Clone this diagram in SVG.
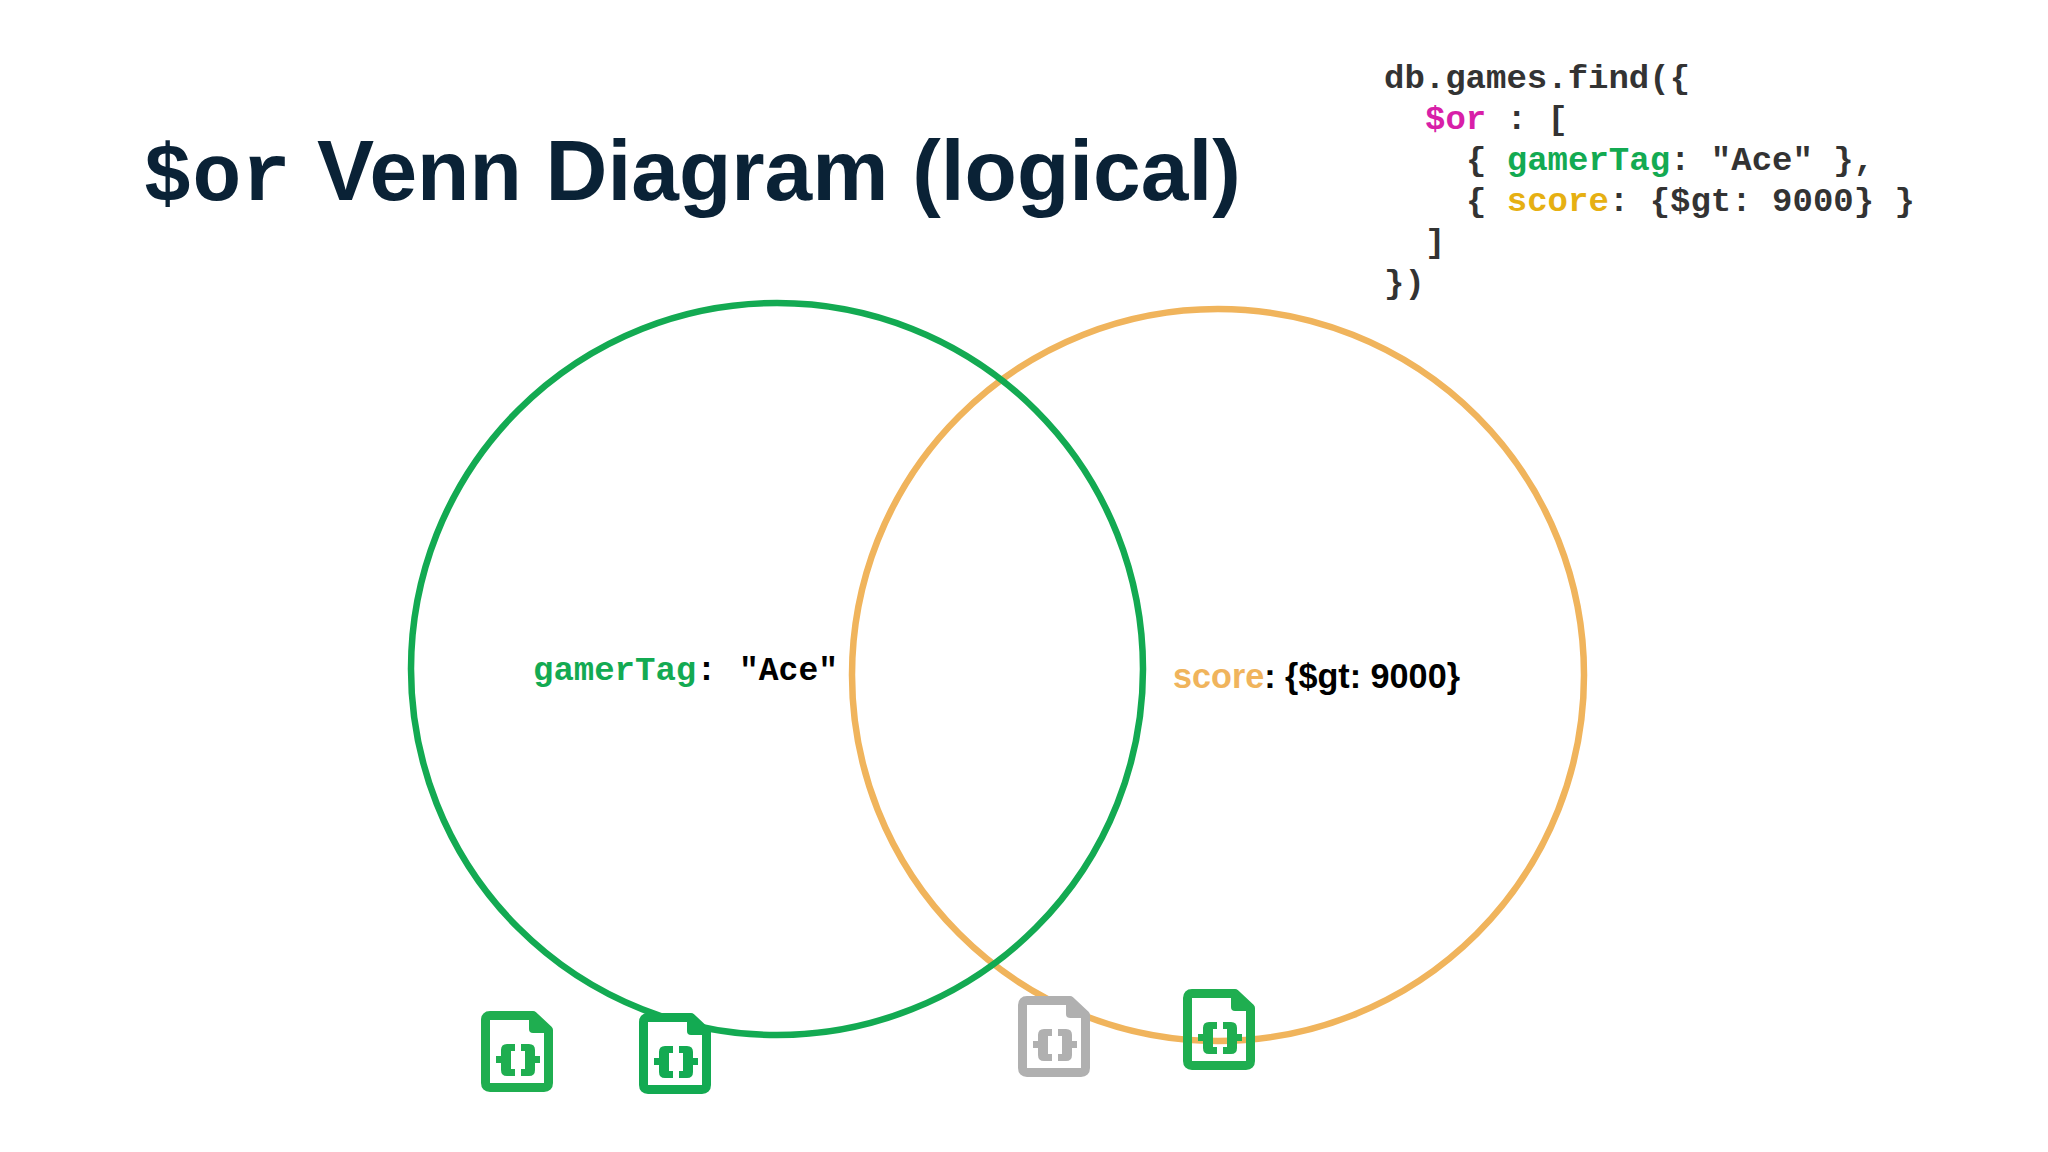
<svg xmlns="http://www.w3.org/2000/svg" width="2048" height="1152" viewBox="0 0 2048 1152">
<style>
.mono{font-family:"Liberation Mono","Courier New",monospace;font-weight:700}
.sans{font-family:"Liberation Sans",Arial,sans-serif;font-weight:700}
.code{font-size:34px;fill:#333}
.title{fill:#0a2236}
.circle{fill:none;stroke-width:6.500}
</style>
<defs>
<path id="sheet" d="M9 4.500H52L67.500 19V72Q67.500 76.500 63 76.500H9Q4.500 76.500 4.500 72V9Q4.500 4.500 9 4.500Z" stroke="currentColor" stroke-width="9" stroke-linejoin="round"/>
<path id="fold" d="M48 5H54L69 20V22H52Q48 22 48 18Z" fill="currentColor"/>
<g id="braces" fill="currentColor">
<path d="M34 33H26Q20 33 20 39V45H15V52H20V59Q20 65 26 65H34V58H30V40H34Z"/>
<path d="M40 33H48Q54 33 54 39V45H59V52H54V59Q54 65 48 65H40V58H44V40H40Z"/>
</g>
</defs>
<rect width="2048" height="1152" fill="#fff"/>
<g id="title">
<text class="mono title" x="143" y="200" font-size="82">$or</text>
<text class="sans title" x="317" y="200" font-size="85.700">Venn Diagram (logical)</text>
</g>
<g id="code">
<text class="mono code" x="1384" y="88">db.games.find({</text>
<text class="mono code" x="1425" y="129" xml:space="preserve"><tspan fill="#d81fa8">$or</tspan> : [</text>
<text class="mono code" x="1466" y="170" xml:space="preserve">{ <tspan fill="#13aa52">gamerTag</tspan>: "Ace" },</text>
<text class="mono code" x="1466" y="211" xml:space="preserve">{ <tspan fill="#e6b012">score</tspan>: {$gt: 9000} }</text>
<text class="mono code" x="1425" y="252">]</text>
<text class="mono code" x="1384" y="293">})</text>
</g>
<g id="set-score">
<circle class="circle" cx="1218" cy="675" r="366" stroke="#f0b45c"/>
<text class="sans" x="1173" y="688" font-size="34.200"><tspan fill="#f0b45c">score</tspan><tspan fill="#000">: {$gt: 9000}</tspan></text>
</g>
<g id="set-gamertag">
<circle class="circle" cx="777" cy="669" r="366" stroke="#13aa52"/>
<text class="mono" x="533" y="680" font-size="34"><tspan fill="#13aa52">gamerTag</tspan><tspan fill="#000">: </tspan><tspan fill="#000" x="739" font-size="33">"Ace"</tspan></text>
</g>
<g id="doc-1" color="#1fae50" transform="translate(481 1011)"><use href="#sheet" fill="#fff"/><use href="#fold"/><use href="#braces"/></g>
<g id="doc-2" color="#13aa52" transform="translate(639 1013)"><use href="#sheet" fill="#fff"/><use href="#fold"/><use href="#braces"/></g>
<g id="doc-3" color="#b0b0b0" transform="translate(1018 996)"><use href="#sheet" fill="#fff"/><use href="#fold"/><use href="#braces"/></g>
<g id="doc-4" color="#1fae50" transform="translate(1183 989)"><use href="#sheet" fill="none"/><use href="#fold"/><use href="#braces"/></g>
</svg>
